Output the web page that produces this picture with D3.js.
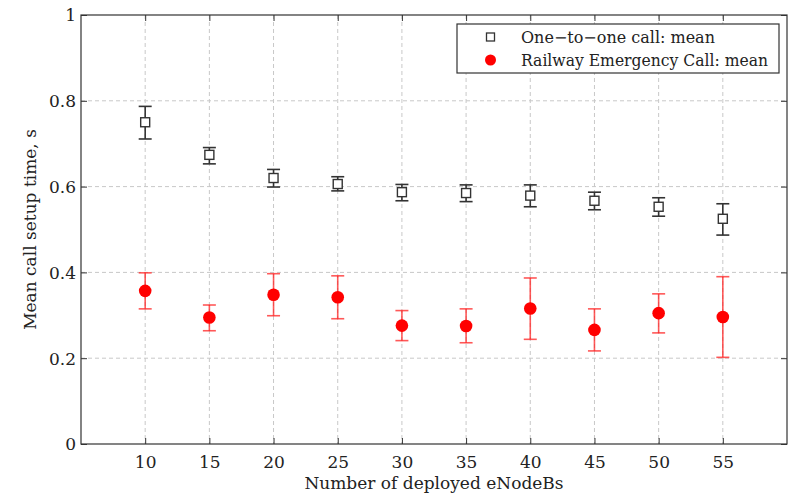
<!DOCTYPE html>
<html><head><meta charset="utf-8">
<script src="https://cdn.jsdelivr.net/npm/d3@7"></script>
<style>body{margin:0;background:#fff}svg{display:block}text{font-family:"DejaVu Serif","Liberation Serif",serif;fill:#222}</style>
</head><body><svg id="c" width="792" height="493"></svg>
<script>
const nodes = [10,15,20,25,30,35,40,45,50,55];
const oneMean = [0.750,0.674,0.620,0.606,0.587,0.585,0.579,0.567,0.553,0.525];
const oneLow  = [0.711,0.653,0.599,0.590,0.567,0.565,0.553,0.546,0.531,0.487];
const oneHigh = [0.787,0.691,0.640,0.623,0.605,0.604,0.604,0.587,0.574,0.560];
const remMean = [0.357,0.295,0.348,0.342,0.276,0.275,0.316,0.266,0.305,0.296];
const remLow  = [0.315,0.264,0.299,0.292,0.241,0.236,0.244,0.217,0.259,0.202];
const remHigh = [0.399,0.324,0.397,0.392,0.311,0.315,0.387,0.315,0.350,0.390];
const yTicks = [0,0.2,0.4,0.6,0.8,1];
const yTickLabels = ["0","0.2","0.4","0.6","0.8","1"];
const legendLabels = ["One\u2212to\u2212one call: mean","Railway Emergency Call: mean"];
const xTitle = "Number of deployed eNodeBs";
const yTitle = "Mean call setup time, s";

const L=81,R=787,T=15,B=444;
const svg=d3.select("#c");
const x=d3.scaleLinear().domain([5,60]).range([L,R]);
const y=d3.scaleLinear().domain([0,1]).range([B,T]);

// grid
const g=svg.append("g");
g.selectAll(".gx").data(nodes).join("line").attr("x1",d=>x(d)).attr("x2",d=>x(d)).attr("y1",T).attr("y2",B)
 .attr("stroke","#c8c8c8").attr("stroke-dasharray","4,3").attr("stroke-width",1);
g.selectAll(".gy").data(yTicks.slice(1,-1)).join("line").attr("y1",d=>y(d)).attr("y2",d=>y(d)).attr("x1",L).attr("x2",R)
 .attr("stroke","#c8c8c8").attr("stroke-dasharray","4,3").attr("stroke-width",1);

// axes
const ax=svg.append("g").attr("transform",`translate(0,${B})`).call(d3.axisBottom(x).tickValues(nodes).tickSizeInner(-6).tickSizeOuter(0).tickPadding(12));
const ay=svg.append("g").attr("transform",`translate(${L},0)`).call(d3.axisLeft(y).tickValues(yTicks).tickFormat((d,i)=>yTickLabels[i]).tickSizeInner(-6).tickSizeOuter(0).tickPadding(5));
const ayr=svg.append("g").attr("transform",`translate(${R},0)`).call(d3.axisRight(y).tickValues(yTicks).tickFormat("").tickSizeInner(-6).tickSizeOuter(0));
const axt=svg.append("g").attr("transform",`translate(0,${T})`).call(d3.axisTop(x).tickValues(nodes).tickFormat("").tickSizeInner(-6).tickSizeOuter(0));
[ax,ay,ayr,axt].forEach(a=>{a.select(".domain").remove();a.selectAll("line").attr("stroke","#333");a.selectAll("text").attr("font-family","DejaVu Serif").attr("font-size",17).attr("fill","#222");});
ay.selectAll("text").attr("dy","0.35em");
svg.append("rect").attr("x",L).attr("y",T).attr("width",R-L).attr("height",B-T).attr("fill","none").attr("stroke","#333").attr("stroke-width",1.2);

// error bars
function bars(mean,lo,hi,col,op){
  const gg=svg.append("g").attr("stroke",col).attr("stroke-opacity",op).attr("stroke-width",1.6);
  nodes.forEach((n,i)=>{
    gg.append("line").attr("x1",x(n)).attr("x2",x(n)).attr("y1",y(lo[i])).attr("y2",y(hi[i]));
    gg.append("line").attr("x1",x(n)-6.5).attr("x2",x(n)+6.5).attr("y1",y(lo[i])).attr("y2",y(lo[i]));
    gg.append("line").attr("x1",x(n)-6.5).attr("x2",x(n)+6.5).attr("y1",y(hi[i])).attr("y2",y(hi[i]));
  });
}
bars(oneMean,oneLow,oneHigh,"#333",1);
bars(remMean,remLow,remHigh,"#ff2020",0.75);
svg.append("g").selectAll("rect").data(nodes).join("rect").attr("x",d=>x(d)-4.5).attr("y",(d,i)=>y(oneMean[i])-4.5)
 .attr("width",9).attr("height",9).attr("fill","#fff").attr("stroke","#333").attr("stroke-width",1.4);
svg.append("g").selectAll("circle").data(nodes).join("circle").attr("cx",d=>x(d)).attr("cy",(d,i)=>y(remMean[i])).attr("r",6.3).attr("fill","#ff0000");

// legend
const lg=svg.append("g");
lg.append("rect").attr("x",457).attr("y",24).attr("width",322).attr("height",49).attr("fill","#fff").attr("stroke","#333").attr("stroke-width",1.2);
lg.append("rect").attr("x",486.5).attr("y",33).attr("width",8).attr("height",8).attr("fill","#fff").attr("stroke","#333").attr("stroke-width",1.3);
lg.append("circle").attr("cx",490.5).attr("cy",60).attr("r",5.5).attr("fill","#ff0000");
lg.append("text").attr("x",521).attr("y",37).attr("dy","0.35em").attr("font-size",16).text(legendLabels[0]);
lg.append("text").attr("x",521).attr("y",60).attr("dy","0.35em").attr("font-size",16).attr("textLength",247).attr("lengthAdjust","spacingAndGlyphs").text(legendLabels[1]);

// titles
svg.append("text").attr("x",(L+R)/2).attr("y",489).attr("text-anchor","middle").attr("font-size",17).text(xTitle);
svg.append("text").attr("transform",`translate(36,${(T+B)/2}) rotate(-90)`).attr("text-anchor","middle").attr("font-size",17).text(yTitle);
</script></body></html>
